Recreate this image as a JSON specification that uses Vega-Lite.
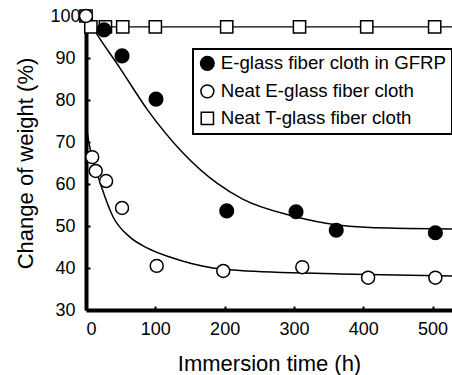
{
  "$schema": "https://vega.github.io/schema/vega-lite/v6.json",
  "width": 366,
  "height": 294,
  "autosize": {"type": "none"},
  "padding": {"left": 86, "top": 16, "right": 0, "bottom": 65},
  "background": "white",
  "config": {
    "view": {"stroke": null},
    "font": "Liberation Sans",
    "axis": {
      "grid": false,
      "domainColor": "black",
      "domainWidth": 4,
      "tickColor": "black",
      "tickWidth": 2,
      "tickSize": -4,
      "labelColor": "black",
      "labelFont": "Liberation Sans",
      "labelFontSize": 18,
      "titleColor": "black",
      "titleFont": "Liberation Sans",
      "titleFontSize": 22,
      "titleFontWeight": "normal"
    },
    "legend": {
      "strokeColor": "black",
      "strokeWidth": 2,
      "fillColor": "white",
      "padding": 5,
      "labelFont": "Liberation Sans",
      "labelFontSize": 18.7,
      "labelColor": "black",
      "labelLimit": 400,
      "labelOffset": 4,
      "symbolStrokeWidth": 1.5,
      "rowPadding": 7
    }
  },
  "datasets": {
    "measured": [
      {"series": "Neat T-glass fiber cloth", "t": 0, "w": 100},
      {"series": "Neat T-glass fiber cloth", "t": 7, "w": 97.4},
      {"series": "Neat T-glass fiber cloth", "t": 28, "w": 97.4},
      {"series": "Neat T-glass fiber cloth", "t": 53, "w": 97.4},
      {"series": "Neat T-glass fiber cloth", "t": 100, "w": 97.4},
      {"series": "Neat T-glass fiber cloth", "t": 203, "w": 97.4},
      {"series": "Neat T-glass fiber cloth", "t": 308, "w": 97.4},
      {"series": "Neat T-glass fiber cloth", "t": 405, "w": 97.4},
      {"series": "Neat T-glass fiber cloth", "t": 503, "w": 97.4},
      {"series": "E-glass fiber cloth in GFRP", "t": 26, "w": 96.7},
      {"series": "E-glass fiber cloth in GFRP", "t": 52, "w": 90.5},
      {"series": "E-glass fiber cloth in GFRP", "t": 101, "w": 80.2},
      {"series": "E-glass fiber cloth in GFRP", "t": 203, "w": 53.6},
      {"series": "E-glass fiber cloth in GFRP", "t": 303, "w": 53.4},
      {"series": "E-glass fiber cloth in GFRP", "t": 361, "w": 49.0},
      {"series": "E-glass fiber cloth in GFRP", "t": 504, "w": 48.4},
      {"series": "Neat E-glass fiber cloth", "t": 0, "w": 100},
      {"series": "Neat E-glass fiber cloth", "t": 9, "w": 66.4},
      {"series": "Neat E-glass fiber cloth", "t": 14, "w": 63.1},
      {"series": "Neat E-glass fiber cloth", "t": 29, "w": 60.7},
      {"series": "Neat E-glass fiber cloth", "t": 52, "w": 54.3},
      {"series": "Neat E-glass fiber cloth", "t": 102, "w": 40.5},
      {"series": "Neat E-glass fiber cloth", "t": 198, "w": 39.3},
      {"series": "Neat E-glass fiber cloth", "t": 312, "w": 40.2},
      {"series": "Neat E-glass fiber cloth", "t": 407, "w": 37.7},
      {"series": "Neat E-glass fiber cloth", "t": 504, "w": 37.7}
    ],
    "tglassLine": [
      {"t": 0, "w": 100},
      {"t": 7, "w": 97.4},
      {"t": 28, "w": 97.4},
      {"t": 53, "w": 97.4},
      {"t": 100, "w": 97.4},
      {"t": 203, "w": 97.4},
      {"t": 308, "w": 97.4},
      {"t": 405, "w": 97.4},
      {"t": 503, "w": 97.4},
      {"t": 528, "w": 97.4}
    ],
    "fitted": [
      {"curve": "gfrp", "t": 0, "w": 100},
      {"curve": "gfrp", "t": 13, "w": 96.4},
      {"curve": "gfrp", "t": 49, "w": 87.6},
      {"curve": "gfrp", "t": 89, "w": 77.6},
      {"curve": "gfrp", "t": 140, "w": 67.4},
      {"curve": "gfrp", "t": 189, "w": 60.2},
      {"curve": "gfrp", "t": 226, "w": 56.4},
      {"curve": "gfrp", "t": 298, "w": 52.4},
      {"curve": "gfrp", "t": 366, "w": 50.2},
      {"curve": "gfrp", "t": 438, "w": 49.5},
      {"curve": "gfrp", "t": 528, "w": 49.3},
      {"curve": "neatE", "t": 0, "w": 74.5},
      {"curve": "neatE", "t": 4, "w": 70.0},
      {"curve": "neatE", "t": 13, "w": 64.2},
      {"curve": "neatE", "t": 23, "w": 59.0},
      {"curve": "neatE", "t": 39, "w": 52.2},
      {"curve": "neatE", "t": 63, "w": 47.4},
      {"curve": "neatE", "t": 88, "w": 44.8},
      {"curve": "neatE", "t": 121, "w": 42.6},
      {"curve": "neatE", "t": 183, "w": 40.0},
      {"curve": "neatE", "t": 222, "w": 39.4},
      {"curve": "neatE", "t": 366, "w": 38.6},
      {"curve": "neatE", "t": 528, "w": 38.1}
    ]
  },
  "encoding": {
    "x": {
      "field": "t",
      "type": "quantitative",
      "scale": {"domain": [0, 528], "nice": false, "zero": false},
      "axis": {
        "values": [0, 100, 200, 300, 400, 500],
        "labelPadding": 14,
        "title": "Immersion time (h)",
        "titleY": 60,
        "titleBaseline": "alphabetic"
      }
    },
    "y": {
      "field": "w",
      "type": "quantitative",
      "scale": {"domain": [30, 100], "nice": false, "zero": false},
      "axis": {
        "values": [30, 40, 50, 60, 70, 80, 90, 100],
        "labelAlign": "center",
        "labelPadding": 25,
        "title": "Change of weight (%)",
        "titleX": -54,
        "titleY": 147,
        "titleAlign": "center",
        "titleBaseline": "alphabetic"
      }
    }
  },
  "layer": [
    {
      "data": {"name": "fitted"},
      "mark": {"type": "line", "color": "black", "strokeWidth": 1.5, "interpolate": "monotone"},
      "encoding": {"detail": {"field": "curve"}}
    },
    {
      "data": {"name": "tglassLine"},
      "mark": {"type": "line", "color": "black", "strokeWidth": 1.3},
      "encoding": {}
    },
    {
      "data": {"values": [{"w": 100}]},
      "mark": {"type": "rule", "color": "black", "strokeWidth": 4},
      "encoding": {"y": {"field": "w", "type": "quantitative"}}
    },
    {
      "data": {"name": "measured"},
      "mark": {"type": "point", "strokeWidth": 1.5, "opacity": 1, "fillOpacity": 1},
      "encoding": {
        "shape": {
          "field": "series",
          "type": "nominal",
          "title": null,
          "scale": {
            "domain": ["E-glass fiber cloth in GFRP", "Neat E-glass fiber cloth", "Neat T-glass fiber cloth"],
            "range": ["circle", "circle", "square"]
          },
          "legend": {"orient": "none", "legendX": 107, "legendY": 33}
        },
        "fill": {
          "field": "series",
          "type": "nominal",
          "title": null,
          "scale": {
            "domain": ["E-glass fiber cloth in GFRP", "Neat E-glass fiber cloth", "Neat T-glass fiber cloth"],
            "range": ["black", "white", "white"]
          },
          "legend": {"orient": "none", "legendX": 107, "legendY": 33}
        },
        "stroke": {
          "field": "series",
          "type": "nominal",
          "title": null,
          "scale": {
            "domain": ["E-glass fiber cloth in GFRP", "Neat E-glass fiber cloth", "Neat T-glass fiber cloth"],
            "range": ["black", "black", "black"]
          },
          "legend": {"orient": "none", "legendX": 107, "legendY": 33}
        },
        "size": {
          "field": "series",
          "type": "nominal",
          "title": null,
          "scale": {
            "domain": ["E-glass fiber cloth in GFRP", "Neat E-glass fiber cloth", "Neat T-glass fiber cloth"],
            "range": [185, 150, 135]
          },
          "legend": {"orient": "none", "legendX": 107, "legendY": 33}
        }
      }
    }
  ]
}
